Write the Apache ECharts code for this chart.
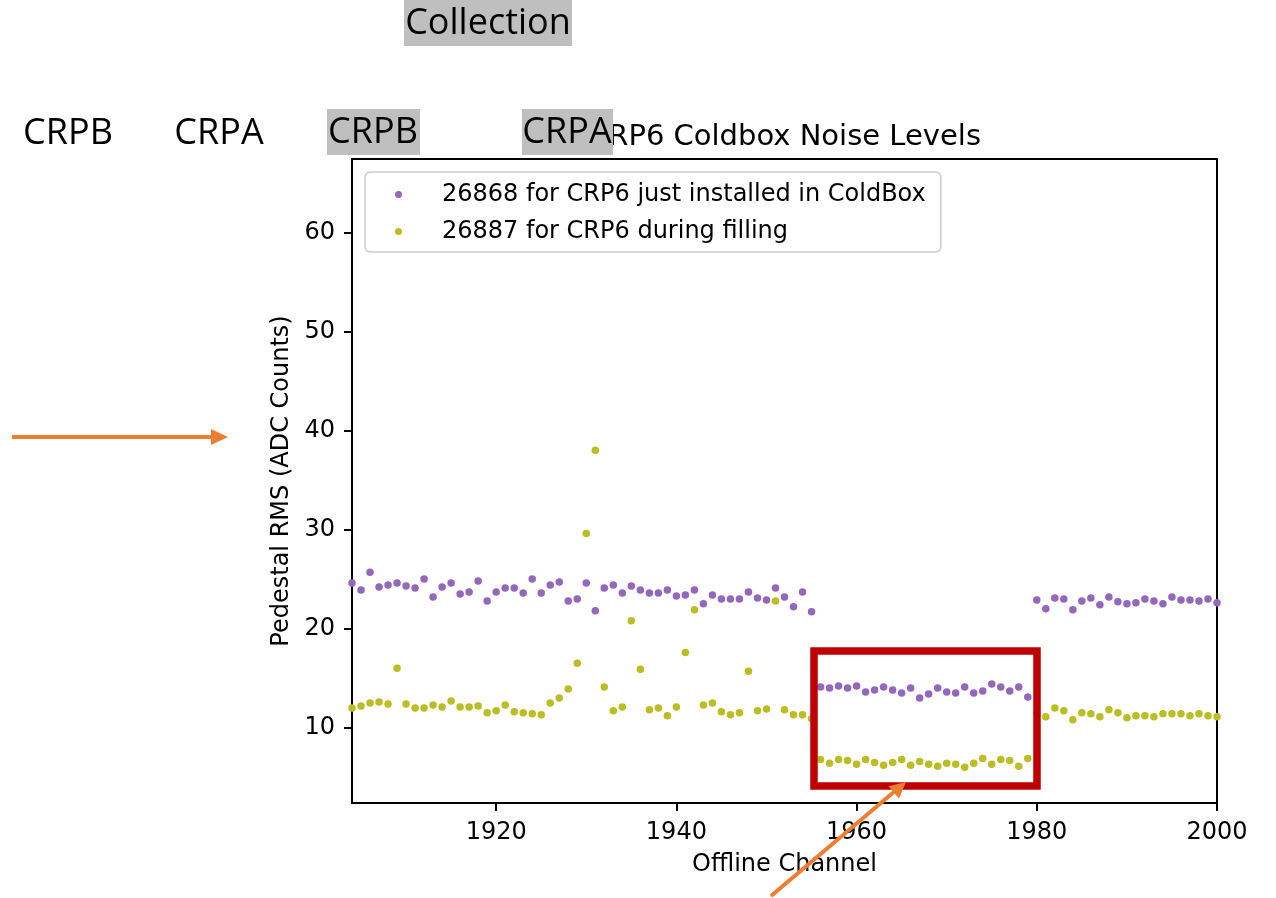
<!DOCTYPE html>
<html>
<head>
<meta charset="utf-8">
<title>CRP6 Coldbox Noise Levels</title>
<script src="https://cdn.jsdelivr.net/npm/echarts@6/dist/echarts.min.js"></script>
<style>
  html, body { margin: 0; padding: 0; background: #fff; }
  #main { width: 1276px; height: 898px; }
</style>
</head>
<body>
<div id="main"></div>
<script>
// 通道号
const channels = [
  1904, 1905, 1906, 1907, 1908, 1909, 1910, 1911, 1912, 1913,
  1914, 1915, 1916, 1917, 1918, 1919, 1920, 1921, 1922, 1923,
  1924, 1925, 1926, 1927, 1928, 1929, 1930, 1931, 1932, 1933,
  1934, 1935, 1936, 1937, 1938, 1939, 1940, 1941, 1942, 1943,
  1944, 1945, 1946, 1947, 1948, 1949, 1950, 1951, 1952, 1953,
  1954, 1955, 1956, 1957, 1958, 1959, 1960, 1961, 1962, 1963,
  1964, 1965, 1966, 1967, 1968, 1969, 1970, 1971, 1972, 1973,
  1974, 1975, 1976, 1977, 1978, 1979, 1980, 1981, 1982, 1983,
  1984, 1985, 1986, 1987, 1988, 1989, 1990, 1991, 1992, 1993,
  1994, 1995, 1996, 1997, 1998, 1999, 2000
]

// run 26868
const rmsInstalled = [
  24.6, 23.9, 25.7, 24.2, 24.4, 24.6, 24.3, 24.1, 25.0, 23.2,
  24.2, 24.6, 23.5, 23.7, 24.8, 22.8, 23.7, 24.1, 24.1, 23.6,
  25.0, 23.6, 24.4, 24.7, 22.8, 23.0, 24.6, 21.8, 24.1, 24.4,
  23.6, 24.3, 23.9, 23.6, 23.6, 23.9, 23.3, 23.4, 23.9, 22.5,
  23.4, 23.0, 23.0, 23.0, 23.7, 23.1, 22.9, 24.1, 23.2, 22.2,
  23.7, 21.7, 14.1, 14.0, 14.2, 14.0, 14.2, 13.6, 13.8, 14.1,
  13.8, 13.5, 14.0, 13.0, 13.4, 14.0, 13.6, 13.5, 14.1, 13.5,
  13.7, 14.4, 14.1, 13.7, 14.1, 13.1, 22.9, 22.0, 23.1, 23.0,
  21.9, 22.8, 23.1, 22.4, 23.2, 22.7, 22.5, 22.6, 23.0, 22.8,
  22.5, 23.2, 22.9, 22.9, 22.8, 23.0, 22.6
]

// run 26887
const rmsFilling = [
  12.0, 12.2, 12.5, 12.6, 12.4, 16.0, 12.4, 12.0, 12.0, 12.3,
  12.1, 12.7, 12.1, 12.1, 12.2, 11.5, 11.7, 12.3, 11.6, 11.5,
  11.4, 11.3, 12.5, 13.0, 13.9, 16.5, 29.6, 38.0, 14.1, 11.7,
  12.1, 20.8, 15.9, 11.8, 12.0, 11.2, 12.1, 17.6, 21.9, 12.3,
  12.5, 11.6, 11.3, 11.5, 15.7, 11.7, 11.9, 22.8, 11.8, 11.3,
  11.3, 10.9, 6.8, 6.4, 6.8, 6.7, 6.3, 6.8, 6.5, 6.2,
  6.5, 6.8, 6.2, 6.6, 6.3, 6.1, 6.4, 6.3, 6.0, 6.4,
  6.9, 6.3, 6.8, 6.7, 6.1, 6.9, 11.5, 11.1, 12.0, 11.7,
  10.8, 11.5, 11.4, 11.1, 11.8, 11.5, 11.0, 11.2, 11.2, 11.1,
  11.4, 11.4, 11.4, 11.2, 11.4, 11.2, 11.1
]

const xTicks = [1920, 1940, 1960, 1980, 2000]
const yTicks = [10, 20, 30, 40, 50, 60]
const seriesNames = ['26868 for CRP6 just installed in ColdBox', '26887 for CRP6 during filling']

const FONT = 'DejaVu Sans'
const ORANGE = '#ed7d31'
const SLIDE_FONT = '36px "Open Sans"'

const chart = echarts.init(document.getElementById('main'), null, { renderer: 'canvas' })

const axisCommon = {
  axisLine: { show: true, onZero: false, lineStyle: { color: '#000', width: 2 } },
  splitLine: { show: false },
  nameTextStyle: { color: '#000', fontFamily: FONT, fontSize: 24 }
}

chart.setOption({
  animation: false,
  backgroundColor: '#fff',
  grid: {
    left: 352,
    right: 59,
    top: 159,
    bottom: 95,
    show: true,
    borderColor: '#000',
    borderWidth: 2
  },
  legend: {
    orient: 'vertical',
    left: 365,
    top: 172,
    padding: [8, 15, 6, 30],
    itemGap: 8,
    itemWidth: 7,
    itemHeight: 7,
    icon: 'circle',
    backgroundColor: 'rgba(255,255,255,0.8)',
    borderColor: '#cccccc',
    borderWidth: 1.5,
    borderRadius: 5,
    textStyle: {
      color: '#000',
      fontFamily: FONT,
      fontSize: 24,
      lineHeight: 29,
      padding: [0, 0, 0, 35]
    },
    data: seriesNames
  },
  xAxis: {
    ...axisCommon,
    type: 'value',
    min: 1904,
    max: 2000,
    name: 'Offline Channel',
    nameLocation: 'middle',
    nameGap: 50,
    axisTick: { show: true, length: 8, lineStyle: { color: '#000', width: 2 }, customValues: xTicks },
    axisLabel: {
      color: '#000',
      fontFamily: FONT,
      fontSize: 24,
      margin: 18,
      customValues: xTicks,
      formatter: v => String(v)
    }
  },
  yAxis: {
    ...axisCommon,
    type: 'value',
    min: 2.4,
    max: 67.4,
    name: 'Pedestal RMS (ADC Counts)',
    nameLocation: 'middle',
    nameGap: 57,
    axisTick: { show: true, length: 8, lineStyle: { color: '#000', width: 2 }, customValues: yTicks },
    axisLabel: { color: '#000', fontFamily: FONT, fontSize: 24, margin: 17, customValues: yTicks }
  },
  series: [
    {
      name: seriesNames[0],
      type: 'scatter',
      symbolSize: 7.5,
      itemStyle: { color: '#9467bd', opacity: 1 },
      data: channels.map((c, i) => [c, rmsInstalled[i]])
    },
    {
      name: seriesNames[1],
      type: 'scatter',
      symbolSize: 7.5,
      itemStyle: { color: '#bcbd22', opacity: 1 },
      data: channels.map((c, i) => [c, rmsFilling[i]])
    }
  ],
  // 幻灯片上的标注
  graphic: [
    {
      type: 'text',
      z: 100,
      x: 784.5,
      y: 137,
      style: { text: 'CRP6 Coldbox Noise Levels', fill: '#000', font: '29px "DejaVu Sans"', textAlign: 'center', textVerticalAlign: 'middle' }
    },
    { type: 'rect', z: 101, shape: { x: 404, y: 0, width: 168, height: 46 }, style: { fill: '#bfbfbf' } },
    { type: 'rect', z: 101, shape: { x: 327, y: 109, width: 93, height: 46 }, style: { fill: '#bfbfbf' } },
    { type: 'rect', z: 101, shape: { x: 522, y: 109, width: 91, height: 46 }, style: { fill: '#bfbfbf' } },
    { type: 'text', z: 102, x: 488, y: 24, style: { text: 'Collection', fill: '#000', font: SLIDE_FONT, textAlign: 'center', textVerticalAlign: 'middle' } },
    { type: 'text', z: 102, x: 68, y: 134, style: { text: 'CRPB', fill: '#000', font: SLIDE_FONT, textAlign: 'center', textVerticalAlign: 'middle' } },
    { type: 'text', z: 102, x: 219, y: 134, style: { text: 'CRPA', fill: '#000', font: SLIDE_FONT, textAlign: 'center', textVerticalAlign: 'middle' } },
    { type: 'text', z: 102, x: 373, y: 133, style: { text: 'CRPB', fill: '#000', font: SLIDE_FONT, textAlign: 'center', textVerticalAlign: 'middle' } },
    { type: 'text', z: 102, x: 567, y: 133, style: { text: 'CRPA', fill: '#000', font: SLIDE_FONT, textAlign: 'center', textVerticalAlign: 'middle' } },
    // 红框
    { type: 'rect', z: 103, shape: { x: 814, y: 651, width: 223, height: 135 }, style: { fill: null, stroke: '#c00000', lineWidth: 7.5 } },
    // 箭头
    { type: 'line', z: 104, shape: { x1: 12, y1: 437, x2: 213, y2: 437 }, style: { stroke: ORANGE, lineWidth: 4 } },
    { type: 'polygon', z: 104, shape: { points: [[211, 429], [228, 437], [211, 445]] }, style: { fill: ORANGE } },
    { type: 'line', z: 104, shape: { x1: 771, y1: 896, x2: 895, y2: 791 }, style: { stroke: ORANGE, lineWidth: 4 } },
    { type: 'polygon', z: 104, shape: { points: [[906, 782], [899, 798.4], [888.6, 786.2]] }, style: { fill: ORANGE } }
  ]
})
</script>
</body>
</html>
